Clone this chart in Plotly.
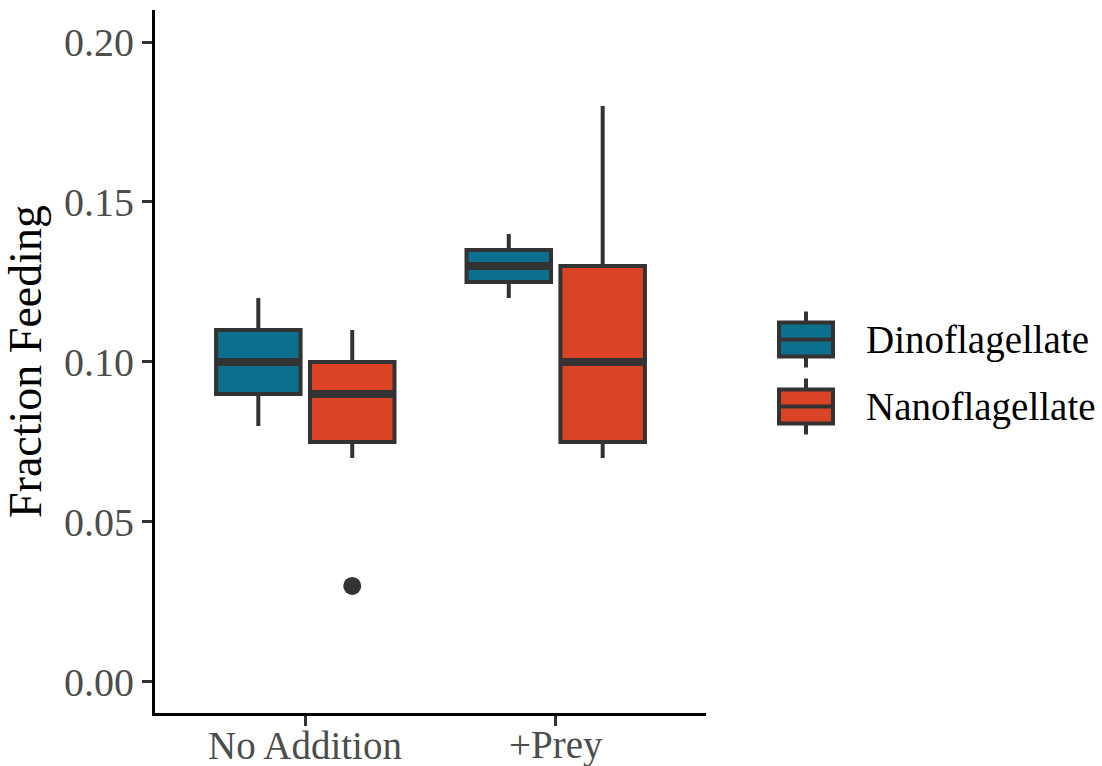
import plotly.graph_objects as go

# ---- data ----
groups = ["No Addition", "+Prey"]
species = ["Dinoflagellate", "Nanoflagellate"]

dino_lower = [0.08, 0.12]
dino_q1 = [0.09, 0.125]
dino_median = [0.10, 0.13]
dino_q3 = [0.11, 0.135]
dino_upper = [0.12, 0.14]

nano_lower = [0.07, 0.07]
nano_q1 = [0.075, 0.075]
nano_median = [0.09, 0.10]
nano_q3 = [0.10, 0.13]
nano_upper = [0.11, 0.18]

nano_outlier_group = ["No Addition"]
nano_outlier_value = [0.03]

colors = {"Dinoflagellate": "#0B6F8D", "Nanoflagellate": "#DB4325"}
outline = "#333333"

# ---- geometry ----
W, H = 1102, 766
ML, MR, MT, MB = 155, 396, 10, 53
PW, PH = W - ML - MR, H - MT - MB

def px_x(px):
    return (px - ML) / PW

def px_y(py):
    return (H - MB - py) / PH

dodge = 0.75 / 2
box_w = dodge * 0.9
pos = {g: i + 1 for i, g in enumerate(groups)}

fig = go.Figure()

stats = {
    "Dinoflagellate": (dino_lower, dino_q1, dino_median, dino_q3, dino_upper, -1),
    "Nanoflagellate": (nano_lower, nano_q1, nano_median, nano_q3, nano_upper, 1),
}

for sp in species:
    lo, q1, md, q3, up, side = stats[sp]
    xs = [pos[g] + side * dodge / 2 for g in groups]
    fig.add_trace(go.Box(
        name=sp, x=xs, q1=q1, median=md, q3=q3,
        lowerfence=lo, upperfence=up,
        width=box_w, whiskerwidth=0,
        fillcolor=colors[sp],
        line=dict(color=outline, width=4),
        boxpoints=False, showlegend=False,
    ))
    mx, my = [], []
    for x, m in zip(xs, md):
        mx += [x - box_w / 2, x + box_w / 2, None]
        my += [m, m, None]
    fig.add_trace(go.Scatter(x=mx, y=my, mode="lines",
                             line=dict(color=outline, width=8),
                             showlegend=False, hoverinfo="skip"))

fig.add_trace(go.Scatter(
    x=[pos[g] + dodge / 2 for g in nano_outlier_group],
    y=nano_outlier_value, mode="markers",
    marker=dict(color=outline, size=18),
    showlegend=False,
))

font_family = "Liberation Serif, Times New Roman, serif"

# ---- custom legend (ggplot style box keys) ----
shapes = []
annotations = []
key_x0, key_x1 = 779, 833
key_cx = (key_x0 + key_x1) / 2
for i, sp in enumerate(species):
    cy = 339.5 + i * 67
    shapes.append(dict(type="line", xref="paper", yref="paper",
                       x0=px_x(key_cx), x1=px_x(key_cx),
                       y0=px_y(cy - 28), y1=px_y(cy + 28),
                       line=dict(color=outline, width=4)))
    shapes.append(dict(type="rect", xref="paper", yref="paper",
                       x0=px_x(key_x0), x1=px_x(key_x1),
                       y0=px_y(cy - 17), y1=px_y(cy + 17),
                       fillcolor=colors[sp], line=dict(color=outline, width=4)))
    shapes.append(dict(type="line", xref="paper", yref="paper",
                       x0=px_x(key_x0), x1=px_x(key_x1),
                       y0=px_y(cy), y1=px_y(cy),
                       line=dict(color=outline, width=4)))
    annotations.append(dict(xref="paper", yref="paper",
                            x=px_x(864), y=px_y(cy),
                            xanchor="left", yanchor="middle",
                            text=sp, showarrow=False,
                            font=dict(size=39, color="black", family=font_family)))

# x tick labels as annotations (placed close to the axis like ggplot)
for g in groups:
    annotations.append(dict(xref="x", yref="paper",
                            x=pos[g], y=px_y(745),
                            xanchor="center", yanchor="middle",
                            text=g, showarrow=False,
                            font=dict(size=39, color="#4D4D4D", family=font_family)))

fig.update_layout(
    width=W, height=H,
    margin=dict(l=ML, r=MR, t=MT, b=MB, autoexpand=False),
    paper_bgcolor="white", plot_bgcolor="white",
    boxmode="overlay", showlegend=False,
    font=dict(family=font_family, size=38, color="black"),
    shapes=shapes, annotations=annotations,
    xaxis=dict(
        range=[0.4, 2.6], tickmode="array",
        tickvals=[pos[g] for g in groups], showticklabels=False,
        showgrid=False, zeroline=False, automargin=False,
        showline=True, linecolor="black", linewidth=3,
        ticks="outside", ticklen=10, tickwidth=3, tickcolor="#333333",
    ),
    yaxis=dict(
        range=[-0.0097, 0.21], tickmode="array",
        tickvals=[0.0, 0.05, 0.10, 0.15, 0.20],
        ticktext=["0.00", "0.05", "0.10", "0.15", "0.20"],
        showgrid=False, zeroline=False, automargin=False,
        showline=True, linecolor="black", linewidth=3,
        ticks="outside", ticklen=10, tickwidth=3, tickcolor="#333333",
        tickfont=dict(size=40, color="#4D4D4D", family=font_family),
        title=dict(text="Fraction Feeding", standoff=10,
                   font=dict(size=46, color="black", family=font_family)),
    ),
)

fig.write_html("out.html")
